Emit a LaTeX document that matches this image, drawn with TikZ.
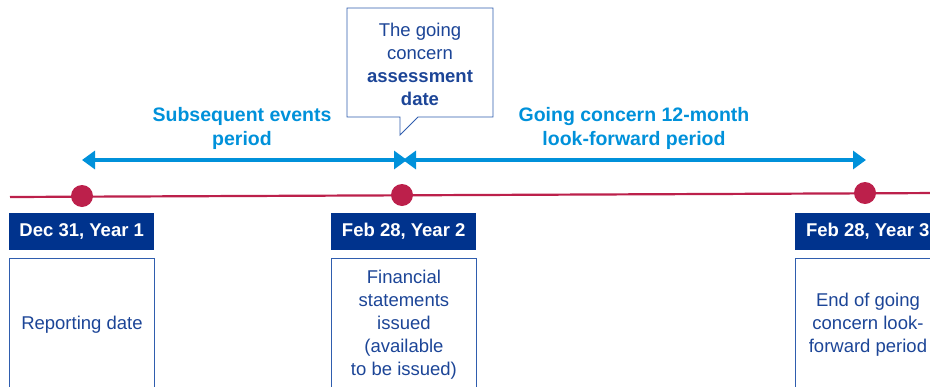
\documentclass[tikz,border=0pt]{standalone}
\usepackage{fontspec}
\setmainfont{Liberation Sans}
\usetikzlibrary{arrows.meta}
\definecolor{navy}{HTML}{00338D}
\definecolor{ltblue}{HTML}{0091DA}
\definecolor{crimson}{HTML}{BC204B}
\definecolor{txtblue}{HTML}{1C4597}
\definecolor{edgeblue}{HTML}{2F5DAE}
\tikzset{
  datebox/.style={fill=navy, text=white, minimum width=145pt, minimum height=37pt,
    inner sep=0pt, font=\fontsize{18.5}{23}\selectfont\bfseries, anchor=north west},
  infobox/.style={draw=edgeblue, line width=0.9pt, text=txtblue, minimum width=145pt,
    minimum height=132pt, inner sep=0pt, align=center,
    font=\fontsize{18.5}{23}\selectfont, anchor=north west},
  dot/.style={circle, fill=crimson, minimum size=22pt, inner sep=0pt},
  period/.style={text=ltblue, align=center, font=\fontsize{19.5}{23.5}\selectfont\bfseries},
  spanarrow/.style={draw=ltblue, line width=4.5pt, {Triangle[length=13pt,width=18pt]}-{Triangle[length=13pt,width=18pt]}},
}
\begin{document}
\begin{tikzpicture}[x=1pt,y=-1pt]
\useasboundingbox (0,0) rectangle (930,386);
\clip (0,0) rectangle (930,386);
% timeline
\coordinate (tlstart) at (10,197);
\coordinate (tlend) at (942,193);
\draw[crimson, line width=2.2pt, -{Triangle[length=11pt,width=11pt]}] (tlstart) -- (tlend);
\node[dot] (d1) at (82,196) {};
\node[dot] (d2) at (402,195) {};
\node[dot] (d3) at (865,193) {};
% span arrows
\coordinate (a1) at (82,160);
\coordinate (a2) at (407,160);
\coordinate (a3) at (403,160);
\coordinate (a4) at (866,160);
\draw[spanarrow] (a1) -- (a2);
\draw[spanarrow] (a3) -- (a4);
% period labels
\node[period] (p1) at (242,128.5) {Subsequent events\\period};
\node[period] (p2) at (634,128.5) {Going concern 12-month\\look-forward period};
% callout
\draw[edgeblue, line width=0.9pt, fill=white] (347,8) -- (493,8) -- (493,117) -- (418,117) -- (400,135) -- (400,117) -- (347,117) -- cycle;
\node[text=txtblue, align=center, font=\fontsize{18.5}{23}\selectfont] (call) at (420,64)
  {The going\\concern\\\textbf{assessment}\\\textbf{date}};
% date boxes
\node[datebox] (b1) at (9,213) {Dec 31, Year 1};
\node[datebox] (b2) at (331,213) {Feb 28, Year 2};
\node[datebox] (b3) at (795,213) {Feb 28, Year 3};
% info boxes
\node[infobox] (i1) at (9,258) {Reporting date};
\node[infobox] (i2) at (331,258) {Financial\\statements\\issued\\(available\\to be issued)};
\node[infobox] (i3) at (795,258) {End of going\\concern look-\\forward period};
\end{tikzpicture}
\end{document}
